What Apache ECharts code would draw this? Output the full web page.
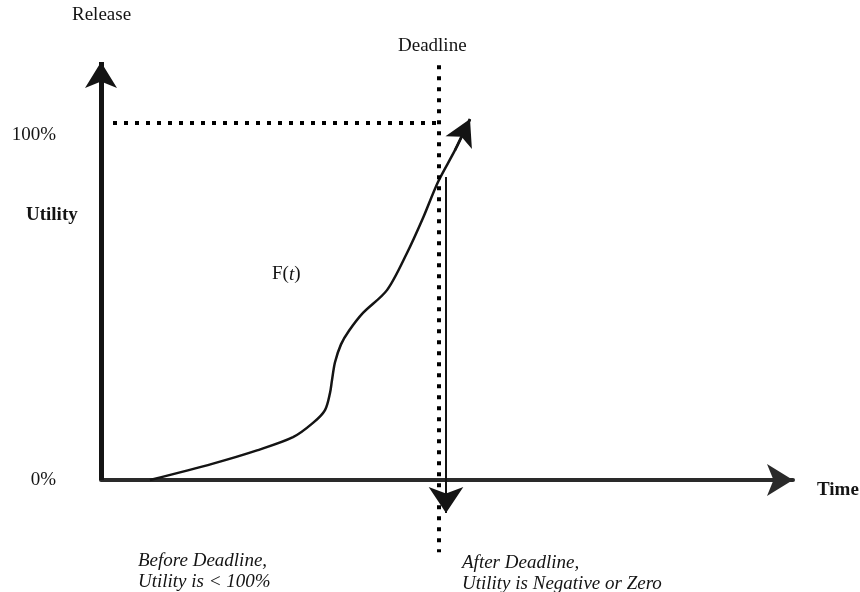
<!DOCTYPE html>
<html>
<head>
<meta charset="utf-8">
<script src="https://cdn.jsdelivr.net/npm/echarts@6/dist/echarts.min.js"></script>
<style>
  html, body { margin: 0; padding: 0; background: #fff; }
  #main { width: 860px; height: 592px; }
</style>
</head>
<body>
<div id="main"></div>
<script type="text/javascript">
    // time runs in plain units along x, utility in percent along y
    var curveT   = [49, 112, 156, 192, 212, 224, 229, 231, 234, 240, 248, 262, 286, 306, 322, 337, 354, 369];
    var curveU   = [0, 4.6, 8.3, 12.0, 16.0, 19.6, 24.4, 28.0, 33.0, 38.0, 41.8, 46.8, 53.2, 63.6, 73.4, 83.5, 92.4, 101.1];
    var deadline = 338;          // deadline on the time axis
    var dropT    = 345;          // where utility falls after the deadline
    var dropFrom = 84.9;
    var dropTo   = -9.2;
    var fullUtility = 100;
    var yLabelValues = [0, 100];
    var tMax = 692, uMin = -21, uMax = 117.1;

    var curveData = [];
    for (var i = 0; i < curveT.length; i++) {
        curveData.push([curveT[i], curveU[i]]);
    }
    var last = curveData.length - 1;

    var ink = '#141414';
    var serif = 'Liberation Serif';
    var myChart = echarts.init(document.getElementById('main'));

    var option = {
        backgroundColor: '#ffffff',
        animation: false,
        grid: { left: 101, right: 67, top: 62, bottom: 37 },
        xAxis: {
            type: 'value', min: 0, max: tMax,
            axisLine: {
                show: true, onZero: true,
                symbol: ['none', 'arrow'], symbolSize: [24, 26],
                lineStyle: { color: '#2a2a2a', width: 4 }
            },
            axisTick: { show: false },
            axisLabel: { show: false },
            splitLine: { show: false }
        },
        yAxis: {
            type: 'value', min: uMin, max: uMax,
            axisLine: { show: false },
            axisTick: { show: false },
            splitLine: { show: false },
            axisLabel: {
                customValues: yLabelValues,
                margin: 45,
                fontFamily: serif, fontSize: 19, color: ink,
                lineHeight: 24,
                formatter: function (v) { return v === 100 ? '\n' + v + '%' : v + '%'; }
            }
        },
        graphic: [
            { type: 'text', left: 72, top: 6, style: { text: 'Release', font: '19px "Liberation Serif"', fill: ink } },
            { type: 'text', left: 398, top: 37, style: { text: 'Deadline', font: '19px "Liberation Serif"', fill: ink } },
            { type: 'text', left: 26, top: 206, style: { text: 'Utility', font: 'bold 19px "Liberation Serif"', fill: ink } },
            { type: 'text', left: 817, top: 481, style: { text: 'Time', font: 'bold 19px "Liberation Serif"', fill: ink } },
            { type: 'text', left: 272, top: 265, style: {
                text: 'F({i|t})', font: '19px "Liberation Serif"', fill: ink,
                rich: { i: { fontStyle: 'italic', fontFamily: serif, fontSize: 19, fill: ink } } } },
            { type: 'text', left: 138, top: 550, style: {
                text: 'Before Deadline,\nUtility is < 100%', font: 'italic 19px "Liberation Serif"', fill: ink, lineHeight: 21 } },
            { type: 'text', left: 462, top: 552, style: {
                text: 'After Deadline,\nUtility is Negative or Zero', font: 'italic 19px "Liberation Serif"', fill: ink, lineHeight: 21 } }
        ],
        series: [
            {
                name: 'F(t)',
                type: 'line',
                smooth: 0.3,
                showSymbol: false,
                lineStyle: { color: ink, width: 2.5 },
                data: curveData,
                markLine: {
                    silent: true,
                    symbol: ['none', 'arrow'], symbolSize: [22, 26],
                    label: { show: false },
                    lineStyle: { color: ink, width: 2.5, type: 'solid' },
                    data: [[{ coord: curveData[last - 1] }, { coord: curveData[last] }]]
                }
            },
            {
                name: 'axes',
                type: 'line',
                data: [],
                markLine: {
                    silent: true,
                    symbol: ['none', 'arrow'], symbolSize: [24, 26],
                    label: { show: false },
                    lineStyle: { color: ink, width: 5, type: 'solid' },
                    data: [[{ coord: [0, 0] }, { coord: [0, uMax] }]]
                }
            },
            {
                name: 'guides',
                type: 'line',
                data: [],
                markLine: {
                    silent: true,
                    symbol: ['none', 'none'],
                    label: { show: false },
                    lineStyle: { color: '#000', width: 4, type: [4, 7], cap: 'butt' },
                    data: [
                        [{ coord: [12, fullUtility] }, { coord: [deadline, fullUtility] }],
                        [{ coord: [deadline, 116.2] }, { coord: [deadline, -20.2] }]
                    ]
                }
            },
            {
                name: 'drop',
                type: 'line',
                data: [],
                markLine: {
                    silent: true,
                    symbol: ['none', 'arrow'], symbolSize: [26, 26],
                    label: { show: false },
                    lineStyle: { color: ink, width: 2, type: 'solid' },
                    data: [[{ coord: [dropT, dropFrom] }, { coord: [dropT, dropTo] }]]
                }
            }
        ]
    };
    myChart.setOption(option);
</script>
</body>
</html>
